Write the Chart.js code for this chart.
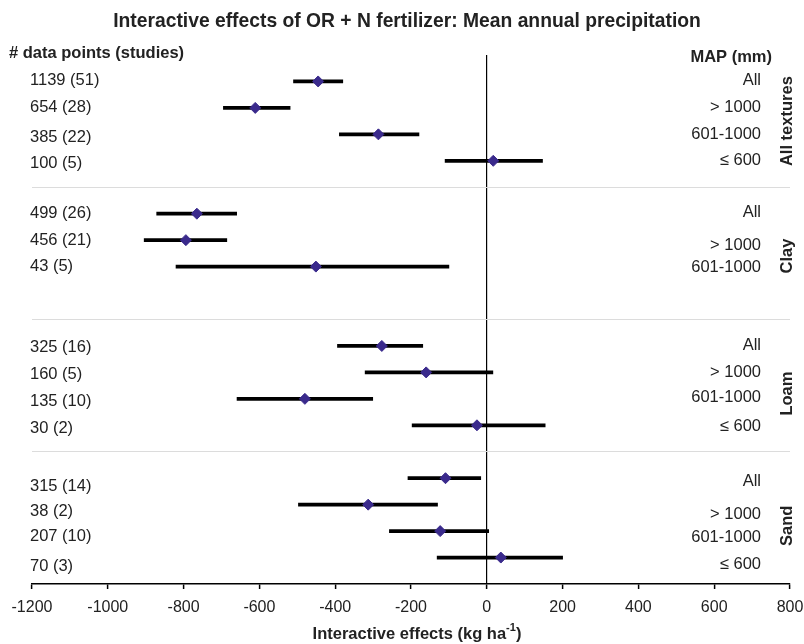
<!DOCTYPE html>
<html>
<head>
<meta charset="utf-8">
<script src="https://cdn.jsdelivr.net/npm/chart.js@4"></script>
<style>
  body { margin: 0; background: #fff; }
  #wrap { width: 804px; height: 644px; }
</style>
</head>
<body>
<div id="wrap"><canvas id="myChart" width="804" height="644"></canvas></div>
<script>
// data
const groups = ["All textures", "Clay", "Loam", "Sand"];
const groupRow = [17.5, 12.4, 7.2, 2.2];
const counts = ["1139 (51)", "654 (28)", "385 (22)", "100 (5)",
    "499 (26)", "456 (21)", "43 (5)",
    "325 (16)", "160 (5)", "135 (10)", "30 (2)",
    "315 (14)", "38 (2)", "207 (10)", "70 (3)"];
const mapClass = ["All", "> 1000", "601-1000", "\u2264 600",
    "All", "> 1000", "601-1000",
    "All", "> 1000", "601-1000", "\u2264 600",
    "All", "> 1000", "601-1000", "\u2264 600"];
const means = [-445, -611, -286, 17, -765, -794, -451, -277, -160, -480, -26, -109, -313, -123, 37];
const lower = [-510, -695, -389, -110, -871, -904, -820, -394, -321, -659, -197, -208, -497, -257, -131];
const upper = [-380, -519, -179, 147, -660, -686, -100, -169, 16, -301, 154, -16, -130, 5, 200];
const rows = [19, 18, 17, 16, 14, 13, 12, 9, 8, 7, 6, 4, 3, 2, 1];
// where the text sits (rows), the labels are a little off the markers in the original
const countRow = [19.05, 18, 16.9, 15.9, 14, 13, 12, 8.93, 7.94, 6.89, 5.89, 3.68, 2.73, 1.79, 0.68];
const mapRow = [19.03, 18, 17, 16.03, 14.03, 12.79, 11.98, 9, 8, 7.04, 5.95, 3.87, 2.64, 1.77, 0.74];
const separators = [5, 10, 15];
const xMin = -1200, xMax = 800, xStep = 200;

const FONT = "'Liberation Sans', Arial, Helvetica, sans-serif";

const textPlugin = {
    id: "texts",
    afterDraw(chart) {
        const c = chart.ctx;
        const y = chart.scales.y;
        c.save();
        c.fillStyle = "#222";
        c.textBaseline = "middle";

        c.font = "bold 19.3px " + FONT;
        c.textAlign = "center";
        c.fillText("Interactive effects of OR + N fertilizer: Mean annual precipitation", 407, 22);

        c.font = "bold 16.5px " + FONT;
        c.textAlign = "left";
        c.fillText("# data points (studies)", 9, 53);
        c.textAlign = "right";
        c.fillText("MAP (mm)", 772, 57);

        // x axis title with superscript
        const t1 = "Interactive effects (kg ha", sup = "-1", t2 = ")";
        c.font = "bold 16.5px " + FONT;
        const w1 = c.measureText(t1).width, w3 = c.measureText(t2).width;
        c.font = "bold 11px " + FONT;
        const w2 = c.measureText(sup).width;
        let x0 = 417 - (w1 + w2 + w3) / 2;
        c.textAlign = "left";
        c.font = "bold 16.5px " + FONT;
        c.fillText(t1, x0, 634);
        c.font = "bold 11px " + FONT;
        c.fillText(sup, x0 + w1, 628);
        c.font = "bold 16.5px " + FONT;
        c.fillText(t2, x0 + w1 + w2, 634);

        c.font = "16.5px " + FONT;
        counts.forEach((s, i) => {
            c.textAlign = "left";
            c.fillText(s, 30, y.getPixelForValue(countRow[i]));
        });
        mapClass.forEach((s, i) => {
            c.textAlign = "right";
            c.fillText(s, 761, y.getPixelForValue(mapRow[i]));
        });

        c.font = "bold 16.5px " + FONT;
        c.textAlign = "center";
        groups.forEach((g, i) => {
            c.save();
            c.translate(787, y.getPixelForValue(groupRow[i]));
            c.rotate(-Math.PI / 2);
            c.fillText(g, 0, 0);
            c.restore();
        });
        c.restore();
    }
};

const ctx = document.getElementById("myChart");

new Chart(ctx, {
    type: "bar",
    data: {
        datasets: [{
            type: "scatter",
            label: "mean",
            data: means.map((m, i) => ({ x: m, y: rows[i] })),
            pointStyle: "rectRot",
            pointRadius: 5.5,
            backgroundColor: "#3a2a8c",
            borderColor: "#3a2a8c",
            borderWidth: 1,
            order: 0
        }, {
            type: "bar",
            label: "range",
            data: rows.map((r, i) => ({ x: [lower[i], upper[i]], y: r })),
            backgroundColor: "#000",
            borderWidth: 0,
            barThickness: 3,
            order: 1
        }]
    },
    options: {
        indexAxis: "y",
        responsive: false,
        animation: false,
        layout: { padding: { left: 32, right: 14, top: 55, bottom: 0 } },
        plugins: { legend: { display: false }, tooltip: { enabled: false }, title: { display: false } },
        scales: {
            x: {
                type: "linear",
                min: xMin,
                max: xMax,
                offset: false,
                ticks: {
                    stepSize: xStep,
                    color: "#222",
                    font: { family: FONT, size: 16 },
                    padding: 9,
                    maxRotation: 0,
                    callback: v => String(v)
                },
                grid: {
                    offset: false,
                    color: c => (c.tick && c.tick.value === 0 ? "#000" : "rgba(0,0,0,0)"),
                    lineWidth: 1.2,
                    tickColor: "#000",
                    tickLength: 5,
                    tickWidth: 1.5
                },
                border: { display: true, color: "#000", width: 1.5 },
                afterFit: s => {
                    s.height = 60;
                    s.paddingLeft = 0;
                    s.paddingRight = 0;
                }
            },
            y: {
                type: "linear",
                min: 0,
                max: 20,
                offset: false,
                afterBuildTicks: s => { s.ticks = separators.map(v => ({ value: v })); },
                ticks: { display: false },
                grid: { offset: false, color: "#dcdcdc", lineWidth: 1, drawTicks: false },
                border: { display: false },
                afterFit: s => { s.width = 0; }
            }
        }
    },
    plugins: [textPlugin]
});
</script>
</body>
</html>
